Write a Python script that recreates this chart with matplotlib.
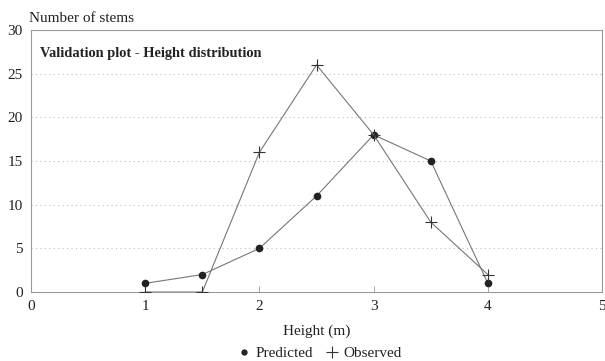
import matplotlib
matplotlib.use("Agg")
import matplotlib.pyplot as plt

plt.rcParams['font.family'] = ['Liberation Serif', 'DejaVu Serif']

heights = [1, 1.5, 2, 2.5, 3, 3.5, 4]
predicted = [1, 2, 5, 11, 18, 15, 1]
observed = [0, 0, 16, 26, 18, 8, 2]
x_ticks = [0, 1, 2, 3, 4, 5]
y_ticks = [0, 5, 10, 15, 20, 25, 30]

fig = plt.figure(figsize=(6.05, 3.61), dpi=100)
ax = fig.add_axes([0.0512, 0.191, 0.944, 0.726])

ax.plot(heights, predicted, color='#777777', lw=0.8, marker='o', ms=4.5,
        mfc='#222222', mec='#222222', label='Predicted', zorder=3)
ax.plot(heights, observed, color='#777777', lw=0.8, marker='+', ms=9,
        mew=0.8, mec='#333333', label='Observed', zorder=3)

ax.set_xlim(0, 5)
ax.set_ylim(0, 30)
ax.set_xticks(x_ticks)
ax.set_yticks(y_ticks)
ax.tick_params(axis='both', labelsize=11, colors='#222222', pad=6)
ax.tick_params(axis='x', direction='in', length=4, width=0.6, color='#999999')
ax.tick_params(axis='y', length=0)
for lbl in ax.get_xticklabels():
    lbl.set_color('#222222')

for y in y_ticks[1:-1]:
    ax.axhline(y, color='#bbbbbb', lw=0.8, ls=(0, (1, 3)), zorder=1)

for sp in ax.spines.values():
    sp.set_color('#999999')
    sp.set_linewidth(0.8)

ax.text(0.016, 0.91, 'Validation plot - Height distribution', transform=ax.transAxes,
        fontsize=10.4, fontweight='bold', color='#222222', va='center')
fig.text(0.048, 0.950, 'Number of stems', fontsize=11, color='#222222', va='center')
ax.set_xlabel('Height (m)', fontsize=11, color='#222222', labelpad=8)

leg = fig.legend(loc='center', bbox_to_anchor=(0.53, 0.022), ncol=2, frameon=False,
                 fontsize=11, handlelength=0.6, handletextpad=0.4, columnspacing=1.0,
                 borderaxespad=0)
for t in leg.get_texts():
    t.set_color('#222222')
for h in leg.legend_handles:
    h.set_linestyle('none')
leg.legend_handles[0].set_markersize(3.5)

fig.savefig('out.png', dpi=100)
